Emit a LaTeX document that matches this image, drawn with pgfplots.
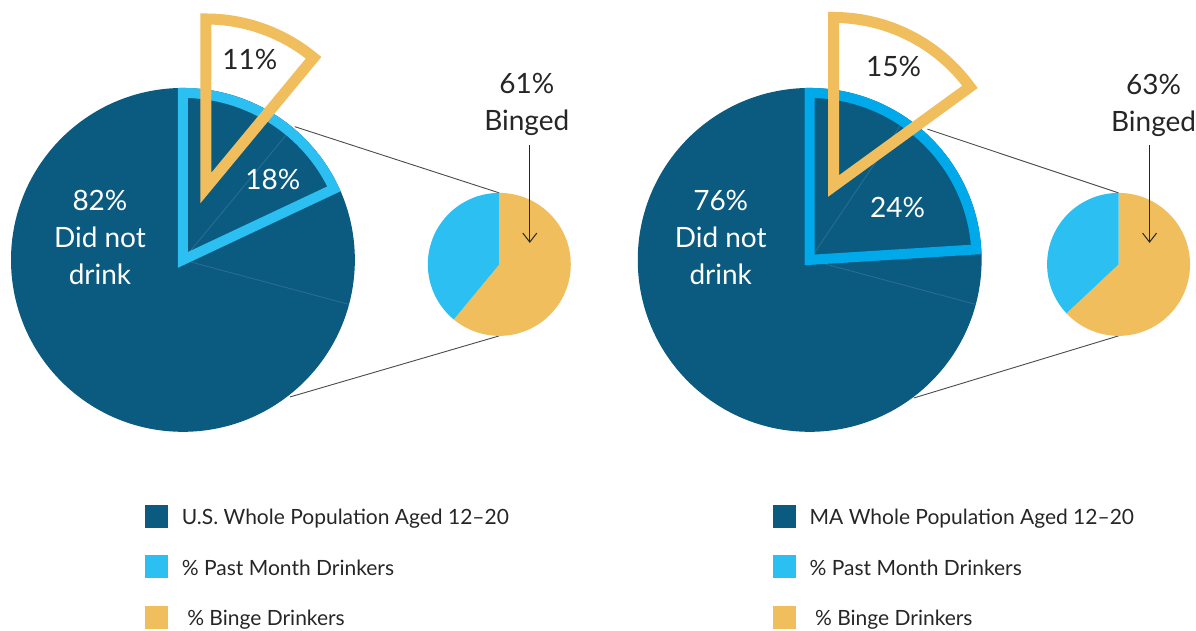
\documentclass[border=0pt]{standalone}
\usepackage{pgfplots}
\pgfplotsset{compat=1.18}
\usetikzlibrary{arrows.meta}
\usepackage{fontspec}
\setmainfont{Lato}
\definecolor{darkb}{HTML}{0B5B81}
\definecolor{faint}{HTML}{2A6F93}
\definecolor{lightb}{HTML}{2CBFF2}
\definecolor{lightbr}{HTML}{00AAEA}
\definecolor{gold}{HTML}{F0BE5C}
\definecolor{txt}{HTML}{262626}
\definecolor{conn}{HTML}{4A4A4A}

% values (percent)
\def\USpast{18}\def\USbinge{11}\def\USshare{61}
\def\MApast{24}\def\MAbinge{15}\def\MAshare{63}

\pgfplotsset{
  panel/.style={x=1pt,y=1pt,xmin=0,xmax=1196,ymin=0,ymax=631,hide axis,clip=false,
    legend cell align=left,
    legend image code/.code={\fill[##1] (0pt,-10pt) rectangle (23pt,13pt);},
    legend style={draw=none,fill=none,inner sep=0pt,outer sep=0pt,
      font=\fontsize{21}{25}\selectfont\color{txt},
      row sep=27.5pt,column sep=14pt,anchor=north west,
      nodes={inner sep=0pt}},
  },
}
\tikzset{lbl/.style={font=\fontsize{28}{37}\selectfont,align=center,inner sep=0pt}}

\begin{document}
\begin{tikzpicture}
% ---------------- left panel (U.S.) ----------------
\begin{axis}[panel, legend style={at={(axis cs:145,126)}}]
\path (axis cs:0,0) (axis cs:1196,631);
\addlegendimage{fill=darkb,draw=none}
\addlegendentry{U.S. Whole Population Aged 12–20}
\addlegendimage{fill=lightb,draw=none}
\addlegendentry{\% Past Month Drinkers}
\addlegendimage{fill=gold,draw=none}
\addlegendentry{~\% Binge Drinkers}
\fill[darkb] (axis cs:183,371) circle[radius=172pt];
\draw[faint,line width=0.8pt] (axis cs:183,371) -- +(50.4:172pt);
\draw[faint,line width=0.8pt] (axis cs:183,371) -- +(-15:172pt);
\draw[lightb,line width=10pt] (axis cs:183,371) -- +(90:167pt)
   arc[start angle=90,delta angle={-3.6*\USpast},radius=167pt] -- cycle;
\draw[gold,line width=11pt] (axis cs:206,443) -- +(90:169pt)
   arc[start angle=90,delta angle={-3.6*\USbinge},radius=169pt] -- cycle;
\draw[conn,line width=0.9pt] (axis cs:183,371) ++(50:174pt) -- (axis cs:499.5,438);
\draw[conn,line width=0.9pt] (axis cs:183,371) ++(-52:174pt) -- (axis cs:499.5,295);
\fill[gold] (axis cs:499.5,366.5) -- +(90:71.5pt)
   arc[start angle=90,delta angle={-3.6*\USshare},radius=71.5pt] -- cycle;
\fill[lightb] (axis cs:499.5,366.5) -- +(90:71.5pt)
   arc[start angle=90,delta angle={3.6*(100-\USshare)},radius=71.5pt] -- cycle;
\draw[txt,line width=1pt,-{Straight Barb[length=9pt,width=14pt]}] (axis cs:530,486) -- (axis cs:530,388);
\node[lbl,white] at (axis cs:100,393) {82\%\\Did not\\drink};
\node[lbl,txt] at (axis cs:250,571) {\USbinge\%};
\node[lbl,white] at (axis cs:273,451) {\USpast\%};
\node[lbl,txt] at (axis cs:527,527) {\USshare\%\\Binged};
\end{axis}
% ---------------- right panel (MA) ----------------
\begin{axis}[panel, legend style={at={(axis cs:773,126)}}]
\addlegendimage{fill=darkb,draw=none}
\addlegendentry{MA Whole Population Aged 12–20}
\addlegendimage{fill=lightb,draw=none}
\addlegendentry{\% Past Month Drinkers}
\addlegendimage{fill=gold,draw=none}
\addlegendentry{~\% Binge Drinkers}
\fill[darkb] (axis cs:810,371) circle[radius=172pt];
\draw[faint,line width=0.8pt] (axis cs:810,371) -- +(56:172pt);
\draw[faint,line width=0.8pt] (axis cs:810,371) -- +(-15:172pt);
\draw[lightbr,line width=10pt] (axis cs:810,371) -- +(90:167pt)
   arc[start angle=90,delta angle={-3.6*\MApast},radius=167pt] -- cycle;
\draw[gold,line width=11pt] (axis cs:834,445) -- +(90:168.5pt)
   arc[start angle=90,delta angle={-3.6*\MAbinge},radius=168.5pt] -- cycle;
\draw[conn,line width=0.9pt] (axis cs:810,371) ++(48:176pt) -- (axis cs:1119,438);
\draw[conn,line width=0.9pt] (axis cs:810,371) ++(-53:173pt) -- (axis cs:1119,295);
\fill[gold] (axis cs:1119,366.5) -- +(90:71.5pt)
   arc[start angle=90,delta angle={-3.6*\MAshare},radius=71.5pt] -- cycle;
\fill[lightb] (axis cs:1119,366.5) -- +(90:71.5pt)
   arc[start angle=90,delta angle={3.6*(100-\MAshare)},radius=71.5pt] -- cycle;
\draw[txt,line width=1pt,-{Straight Barb[length=9pt,width=14pt]}] (axis cs:1150,486) -- (axis cs:1150,388);
\node[lbl,white] at (axis cs:721,393) {76\%\\Did not\\drink};
\node[lbl,txt] at (axis cs:894,564) {\MAbinge\%};
\node[lbl,white] at (axis cs:898,423) {\MApast\%};
\node[lbl,txt] at (axis cs:1154,525.5) {\MAshare\%\\Binged};
\end{axis}
\end{tikzpicture}
\end{document}
